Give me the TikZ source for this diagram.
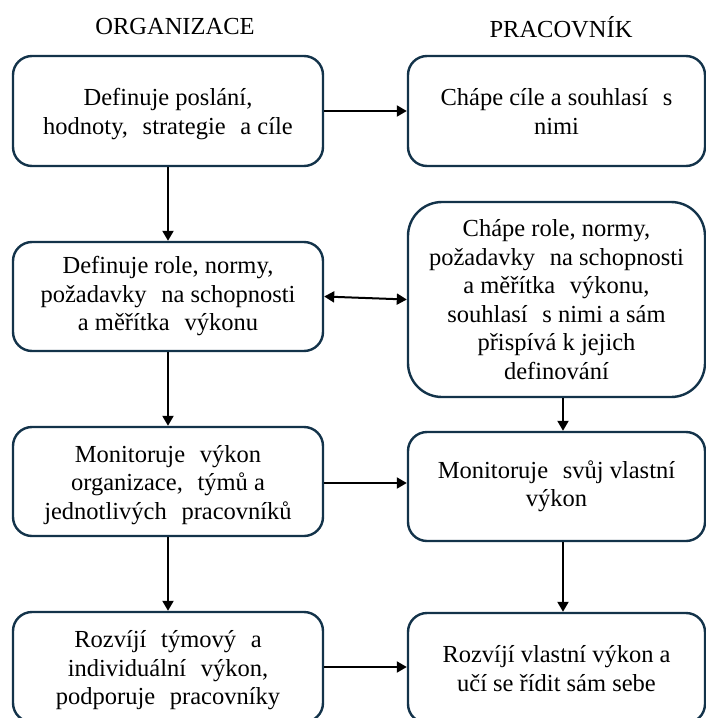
\documentclass[tikz,border=0pt]{standalone}
\usepackage{fontspec}
\setmainfont{Liberation Serif}
\usetikzlibrary{arrows.meta}
\definecolor{boxline}{HTML}{13334A}
\newcommand\wsp{\hspace*{0.35em}}
\newcommand\lowtext[1]{\raisebox{-3.5pt}[\height][\depth]{\begin{tabular}{@{}c@{}}#1\end{tabular}}}
\begin{document}
\begin{tikzpicture}[x=1pt,y=-1pt,
  every node/.style={font=\fontsize{24.5}{28.5}\selectfont, inner sep=0pt},
  box/.style={draw=boxline, line width=2.4pt, rounded corners=19pt, align=center,
    minimum width=310pt, minimum height=110pt, fill=white},
  rbox/.style={box, minimum width=297pt},
  conn/.style={line width=2pt, -{Triangle[length=10pt,width=11pt]}},
  bconn/.style={line width=2pt, {Triangle[length=10pt,width=11pt]}-{Triangle[length=10pt,width=11pt]}}
]
\useasboundingbox (0,0) rectangle (706,718);
\clip (0,0) rectangle (706,718);
\fill[white] (0,0) rectangle (706,718);

\node (t1) at (175,27) {ORGANIZACE};
\node (t2) at (561,27) {PRACOVNÍK};

\node[box] (A1) at (168,111) {\lowtext{Definuje poslání,\\hodnoty,\wsp{} strategie\wsp{} a cíle}};
\node[rbox] (B1) at (556.5,111) {\lowtext{Chápe cíle a souhlasí\wsp{} s\\nimi}};
\node[box, minimum height=109pt] (A2) at (168,296.5) {Definuje role, normy,\\požadavky\wsp{} na schopnosti\\a měřítka\wsp{} výkonu};
\node[rbox, minimum height=195pt, rounded corners=34pt] (B2) at (556.5,299.5) {Chápe role, normy,\\požadavky\wsp{} na schopnosti\\a měřítka\wsp{} výkonu,\\souhlasí\wsp{} s nimi a sám\\přispívá k jejich\\definování};
\node[box, minimum height=109pt] (A3) at (168,481.5) {\lowtext{Monitoruje\wsp{} výkon\\organizace,\wsp{} týmů a\\jednotlivých\wsp{} pracovníků}};
\node[rbox, minimum height=109pt] (B3) at (556.5,486.5) {Monitoruje\wsp{} svůj vlastní\\výkon};
\node[box] (A4) at (168,667) {\lowtext{Rozvíjí\wsp{} týmový\wsp{} a\\individuální\wsp{} výkon,\\podporuje\wsp{} pracovníky}};
\node[rbox] (B4) at (556.5,668) {\lowtext{Rozvíjí vlastní výkon a\\učí se řídit sám sebe}};

\draw[conn] (A1.east) -- (A1.east -| B1.west);
\draw[conn] (A1.south) -- (A2.north);
\draw[bconn] (A2.east) -- (B2.west);
\draw[conn] (A2.south) -- (A3.north);
\draw[conn] ([xshift=6.5pt]B2.south) -- ([xshift=6.5pt]B3.north);
\draw[conn] ([yshift=-1.5pt]A3.east) -- ([yshift=-1.5pt]A3.east -| B3.west);
\draw[conn] (A3.south) -- (A4.north);
\draw[conn] ([xshift=6.5pt]B3.south) -- ([xshift=6.5pt]B4.north);
\draw[conn] (A4.east) -- (A4.east -| B4.west);
\end{tikzpicture}
\end{document}
